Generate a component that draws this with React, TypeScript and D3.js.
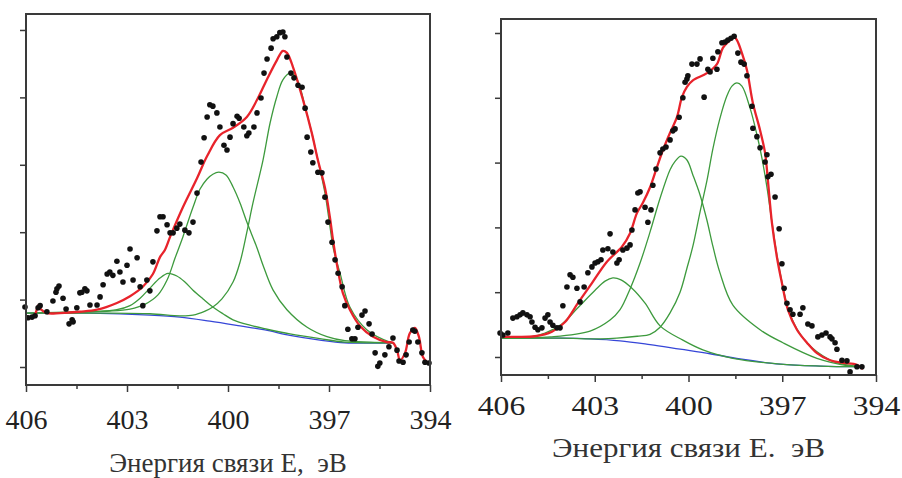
import React, { useEffect, useRef } from "react";
import * as d3 from "d3";

type Pt = [number, number];

// binding energy (eV), intensity (arb. units)

// ---- left spectrum ----
const leftDots: Pt[] = [
  [406.03, 0.89], [405.94, 0.73], [405.82, 0.74], [405.73, 0.76], [405.64, 0.88], [405.58, 0.91],
  [405.38, 0.82], [405.2, 0.98], [405.11, 1.11], [405.08, 1.16], [405.02, 1.2], [404.9, 1.02],
  [404.81, 0.86], [404.72, 0.64], [404.63, 0.7], [404.6, 0.67], [404.49, 0.88], [404.4, 1.1],
  [404.34, 1.11], [404.25, 1.16], [404.19, 1.13], [404.1, 0.92], [403.89, 0.92], [403.8, 1.04],
  [403.71, 1.22], [403.59, 1.38], [403.51, 1.41], [403.42, 1.36], [403.3, 1.57], [403.21, 1.41],
  [403.12, 1.26], [403.0, 1.51], [402.91, 1.75], [402.82, 1.29], [402.7, 1.62], [402.61, 1.19],
  [402.53, 0.91], [402.41, 1.29], [402.32, 1.13], [402.23, 1.56], [402.11, 2.02], [402.02, 2.23],
  [401.93, 2.23], [401.81, 2.11], [401.72, 1.99], [401.63, 1.99], [401.52, 2.06], [401.43, 2.12],
  [401.28, 2.03], [401.16, 1.99], [401.04, 2.15], [400.92, 2.58], [400.8, 3.04], [400.71, 3.4],
  [400.62, 3.71], [400.54, 3.89], [400.45, 3.87], [400.33, 3.77], [400.24, 3.56], [400.12, 3.29],
  [400.03, 3.22], [399.94, 3.41], [399.85, 3.61], [399.73, 3.72], [399.67, 3.69], [399.53, 3.56],
  [399.44, 3.43], [399.38, 3.47], [399.23, 3.56], [399.14, 3.77], [399.02, 3.99], [398.93, 4.36],
  [398.84, 4.57], [398.72, 4.73], [398.66, 4.87], [398.55, 4.9], [398.46, 4.96], [398.37, 4.97],
  [398.31, 4.9], [398.25, 4.6], [398.13, 4.36], [398.04, 4.29], [397.92, 4.18], [397.8, 4.15],
  [397.71, 3.84], [397.65, 3.41], [397.54, 3.19], [397.48, 3.03], [397.33, 2.89], [397.21, 2.88],
  [397.12, 2.52], [397.03, 2.15], [396.91, 1.85], [396.82, 1.59], [396.73, 1.39], [396.61, 1.19],
  [396.53, 0.91], [396.44, 0.56], [396.32, 0.42], [396.23, 0.42], [396.14, 0.59], [396.02, 0.77],
  [395.93, 0.83], [395.81, 0.64], [395.72, 0.49], [395.63, 0.21], [395.55, 0.01], [395.49, 0.06],
  [395.34, 0.18], [395.22, 0.3], [395.1, 0.43], [394.98, 0.25], [394.92, 0.09], [394.8, 0.07],
  [394.71, 0.18], [394.62, 0.37], [394.51, 0.55], [394.45, 0.53], [394.36, 0.37], [394.24, 0.21],
  [394.15, 0.07], [394.03, 0.06],
];

const leftFit: Pt[] = [
  [406.0, 0.76], [405.88, 0.73], [405.79, 0.73], [405.7, 0.82], [405.64, 0.91], [405.55, 0.85],
  [405.38, 0.8], [404.99, 0.8], [404.4, 0.82], [403.89, 0.85], [403.3, 0.95], [402.91, 1.05],
  [402.53, 1.19], [402.23, 1.38], [402.02, 1.63], [401.87, 1.74], [401.72, 1.93], [401.34, 2.37],
  [400.92, 2.8], [400.62, 3.13], [400.24, 3.44], [399.85, 3.55], [399.44, 3.71], [399.14, 3.96],
  [398.84, 4.27], [398.55, 4.55], [398.37, 4.69], [398.25, 4.66], [398.07, 4.45], [397.77, 3.96],
  [397.51, 3.47], [397.33, 3.07], [397.12, 2.66], [396.97, 2.21], [396.88, 1.88], [396.76, 1.51],
  [396.59, 1.1], [396.38, 0.85], [396.08, 0.61], [395.69, 0.45], [395.28, 0.37], [395.1, 0.36],
  [394.98, 0.25], [394.89, 0.1], [394.74, 0.21], [394.6, 0.5], [394.45, 0.58], [394.33, 0.45],
  [394.21, 0.15], [394.06, 0.06],
];

const leftBackground: Pt[] = [
  [406.0, 0.8], [404.1, 0.8], [402.32, 0.77], [401.43, 0.74], [400.54, 0.68], [399.64, 0.61],
  [398.9, 0.55], [398.16, 0.47], [397.27, 0.4], [396.53, 0.36], [395.1, 0.36],
];

const leftPeakA: Pt[] = [
  [404.99, 0.8], [404.1, 0.82], [403.3, 0.85], [402.91, 0.91], [402.61, 1.02], [402.32, 1.17],
  [402.02, 1.32], [401.78, 1.39], [401.52, 1.35], [401.28, 1.26], [401.04, 1.14], [400.74, 1.01],
  [400.45, 0.89], [400.15, 0.79], [399.85, 0.7], [399.35, 0.62], [398.84, 0.56], [398.16, 0.49],
  [397.27, 0.42], [396.53, 0.37], [395.1, 0.36],
];

const leftPeakB: Pt[] = [
  [406.0, 0.8], [404.4, 0.82], [403.51, 0.83], [402.91, 0.86], [402.47, 0.93], [402.08, 1.07],
  [401.81, 1.29], [401.57, 1.62], [401.34, 1.93], [401.04, 2.37], [400.83, 2.64], [400.62, 2.79],
  [400.45, 2.86], [400.27, 2.89], [400.06, 2.85], [399.85, 2.67], [399.64, 2.43], [399.44, 2.15],
  [399.14, 1.77], [398.96, 1.51], [398.66, 1.14], [398.25, 0.85], [397.65, 0.59], [397.06, 0.45],
  [396.53, 0.39], [395.78, 0.37], [395.1, 0.36],
];

const leftPeakC: Pt[] = [
  [406.0, 0.8], [403.8, 0.8], [402.32, 0.79], [401.43, 0.76], [401.04, 0.77], [400.68, 0.83],
  [400.45, 0.89], [400.18, 1.01], [399.85, 1.26], [399.64, 1.56], [399.44, 2.0], [399.26, 2.43],
  [398.96, 3.07], [398.75, 3.62], [398.55, 4.01], [398.37, 4.26], [398.16, 4.36], [398.01, 4.32],
  [397.86, 4.15], [397.71, 3.86], [397.51, 3.47], [397.33, 3.07], [397.12, 2.58], [396.97, 2.08],
  [396.88, 1.78], [396.67, 1.39], [396.38, 0.89], [395.87, 0.55], [395.19, 0.37], [395.1, 0.36],
];

// ---- right spectrum ----
const rightDots: Pt[] = [
  [406.03, 0.37], [405.94, 0.34], [405.78, 0.37], [405.62, 0.6], [405.49, 0.62], [405.39, 0.65],
  [405.3, 0.68], [405.17, 0.65], [405.07, 0.62], [405.01, 0.54], [404.91, 0.46], [404.82, 0.42],
  [404.69, 0.45], [404.59, 0.6], [404.5, 0.65], [404.43, 0.54], [404.34, 0.49], [404.21, 0.45],
  [404.11, 0.45], [404.02, 0.79], [403.89, 1.08], [403.79, 1.27], [403.7, 1.23], [403.57, 1.06],
  [403.47, 0.85], [403.34, 1.08], [403.22, 1.3], [403.09, 1.39], [402.99, 1.45], [402.9, 1.47],
  [402.8, 1.5], [402.74, 1.65], [402.58, 1.67], [402.51, 1.9], [402.42, 1.62], [402.29, 1.45],
  [402.22, 1.5], [402.1, 1.65], [401.97, 1.68], [401.87, 1.73], [401.81, 1.96], [401.71, 2.27],
  [401.62, 2.53], [401.55, 2.55], [401.39, 2.31], [401.3, 2.08], [401.2, 2.27], [401.14, 2.65],
  [401.04, 2.9], [400.91, 3.15], [400.82, 3.21], [400.72, 3.24], [400.59, 3.35], [400.5, 3.49],
  [400.43, 3.52], [400.3, 3.7], [400.18, 4.0], [400.11, 4.24], [400.05, 4.29], [400.02, 4.34],
  [399.89, 4.52], [399.73, 4.52], [399.63, 4.6], [399.5, 4.01], [399.38, 4.44], [399.31, 4.4],
  [399.22, 4.61], [399.09, 4.44], [399.06, 4.71], [398.93, 4.85], [398.83, 4.86], [398.74, 4.89],
  [398.64, 4.92], [398.54, 4.95], [398.42, 4.69], [398.32, 4.55], [398.22, 4.52], [398.13, 4.34],
  [397.97, 3.87], [397.94, 3.53], [397.81, 3.4], [397.71, 3.23], [397.55, 3.01], [397.49, 3.12],
  [397.46, 2.78], [397.36, 2.82], [397.23, 2.47], [397.1, 1.98], [397.01, 1.44], [396.94, 1.06],
  [396.85, 0.83], [396.75, 0.73], [396.66, 0.66], [396.43, 0.66], [396.34, 0.76], [396.18, 0.51],
  [396.05, 0.48], [395.86, 0.31], [395.73, 0.34], [395.6, 0.37], [395.47, 0.31], [395.41, 0.28],
  [395.31, 0.22], [395.25, 0.12], [395.09, -0.05], [394.93, -0.06], [394.83, -0.23], [394.61, -0.15],
  [394.45, -0.15],
];

const rightFit: Pt[] = [
  [406.03, 0.31], [405.55, 0.31], [404.91, 0.32], [404.37, 0.39], [403.95, 0.54], [403.54, 0.83],
  [403.09, 1.14], [402.61, 1.47], [402.13, 1.7], [401.87, 1.91], [401.65, 2.22], [401.46, 2.38],
  [401.23, 2.62], [401.01, 2.93], [400.82, 3.19], [400.59, 3.46], [400.37, 3.7], [400.21, 4.01],
  [400.05, 4.17], [399.86, 4.27], [399.41, 4.38], [399.09, 4.52], [398.9, 4.77], [398.67, 4.89],
  [398.54, 4.94], [398.45, 4.89], [398.29, 4.69], [398.13, 4.43], [397.94, 3.92], [397.71, 3.5],
  [397.55, 3.15], [397.46, 2.73], [397.33, 2.07], [397.17, 1.54], [397.01, 1.14], [396.82, 0.73],
  [396.53, 0.42], [396.21, 0.22], [395.89, 0.06], [395.47, -0.05], [395.06, -0.09], [394.61, -0.12],
  [394.42, -0.19],
];

const rightBackground: Pt[] = [
  [406.0, 0.29], [404.11, 0.29], [403.15, 0.28], [402.19, 0.25], [401.23, 0.19], [400.27, 0.12],
  [399.31, 0.05], [398.35, -0.03], [397.07, -0.11], [395.79, -0.14], [394.51, -0.15],
];

const rightPeakA: Pt[] = [
  [406.0, 0.29], [405.07, 0.31], [404.59, 0.37], [404.05, 0.51], [403.54, 0.76], [402.99, 1.03],
  [402.67, 1.17], [402.42, 1.22], [402.16, 1.19], [401.81, 1.06], [401.39, 0.83], [400.91, 0.48],
  [400.18, 0.26], [399.54, 0.11], [398.58, -0.02], [397.07, -0.11], [395.79, -0.14], [394.51, -0.15],
];

const rightPeakB: Pt[] = [
  [406.0, 0.29], [404.43, 0.31], [403.15, 0.4], [402.51, 0.57], [402.19, 0.73], [401.87, 1.05],
  [401.55, 1.45], [401.23, 1.93], [400.91, 2.45], [400.59, 2.89], [400.43, 3.02], [400.24, 3.1],
  [400.05, 3.04], [399.86, 2.81], [399.63, 2.5], [399.41, 2.11], [399.22, 1.71], [399.0, 1.31],
  [398.58, 0.8], [397.71, 0.42], [396.98, 0.22], [395.89, -0.02], [394.83, -0.14], [394.51, -0.15],
];

const rightPeakC: Pt[] = [
  [406.0, 0.29], [404.11, 0.29], [402.83, 0.28], [402.29, 0.29], [401.64, 0.32], [401.23, 0.35],
  [400.91, 0.46], [400.59, 0.68], [400.27, 1.0], [400.05, 1.37], [399.86, 1.71], [399.63, 2.24],
  [399.41, 2.72], [399.22, 3.21], [399.0, 3.67], [398.77, 4.03], [398.61, 4.18], [398.45, 4.23],
  [398.29, 4.18], [398.03, 3.84], [397.81, 3.43], [397.65, 3.07], [397.49, 2.62], [397.33, 2.08],
  [397.17, 1.57], [397.01, 1.16], [396.82, 0.76], [396.53, 0.43], [396.21, 0.22], [395.89, 0.08],
  [395.31, -0.08], [394.51, -0.15],
];

const xTicks = [406, 403, 400, 397, 394];
const xMinorTicks = [404.5, 401.5, 398.5, 395.5];
const yTicks = [0, 1, 2, 3, 4, 5];

const panels = [
  {
    dots: leftDots, fit: leftFit, bg: leftBackground, peaks: [leftPeakA, leftPeakB, leftPeakC],
    title: "Энергия связи Е,  эВ",
    left: 26, right: 430, top: 14, bottom: 385,
    yMin: -0.267, yMax: 5.237,
    labelDy: 44, titleDy: 87, sx: 1, titleSx: 1,
  },
  {
    dots: rightDots, fit: rightFit, bg: rightBackground, peaks: [rightPeakA, rightPeakB, rightPeakC],
    title: "Энергия связи Е.  эВ",
    left: 501, right: 876, top: 19, bottom: 375,
    yMin: -0.278, yMax: 5.216,
    labelDy: 40, titleDy: 82, sx: 1.13, titleSx: 1.15,
  },
];

const font = "'Liberation Serif', 'Times New Roman', serif";

const Panel = ({ cfg }: { cfg: (typeof panels)[number] }) => {
  const ref = useRef<SVGGElement>(null);

  useEffect(() => {
    const g = d3.select(ref.current);
    g.selectAll("*").remove();

    const x = d3.scaleLinear().domain([406, 394]).range([cfg.left, cfg.right]);
    const y = d3.scaleLinear().domain([cfg.yMin, cfg.yMax]).range([cfg.bottom, cfg.top]);

    const line = d3
      .line<Pt>()
      .x((d) => x(d[0]))
      .y((d) => y(d[1]))
      .curve(d3.curveCatmullRom.alpha(0.5));

    g.append("path")
      .datum(cfg.bg)
      .attr("d", line)
      .attr("fill", "none")
      .attr("stroke", "#3646d8")
      .attr("stroke-width", 1.3);

    cfg.peaks.forEach((p) =>
      g.append("path")
        .datum(p)
        .attr("d", line)
        .attr("fill", "none")
        .attr("stroke", "#3d9a3d")
        .attr("stroke-width", 1.3)
    );

    g.append("path")
      .datum(cfg.fit)
      .attr("d", line)
      .attr("fill", "none")
      .attr("stroke", "#e8232b")
      .attr("stroke-width", 2.3);

    g.append("g")
      .selectAll("circle")
      .data(cfg.dots)
      .join("circle")
      .attr("cx", (d) => x(d[0]))
      .attr("cy", (d) => y(d[1]))
      .attr("r", 2.8)
      .attr("fill", "#111");

    // frame
    g.append("rect")
      .attr("x", cfg.left)
      .attr("y", cfg.top)
      .attr("width", cfg.right - cfg.left)
      .attr("height", cfg.bottom - cfg.top)
      .attr("fill", "none")
      .attr("stroke", "#3a3a3a")
      .attr("stroke-width", 2);

    // y ticks, no labels
    g.append("g")
      .attr("transform", `translate(${cfg.left},0)`)
      .call(d3.axisLeft(y).tickValues(yTicks).tickSize(6).tickFormat(() => ""))
      .call((a) => a.select(".domain").remove())
      .call((a) => a.selectAll("line").attr("stroke", "#3a3a3a").attr("stroke-width", 1.5));

    // minor x ticks
    g.append("g")
      .attr("transform", `translate(0,${cfg.bottom})`)
      .call(d3.axisBottom(x).tickValues(xMinorTicks).tickSize(4).tickFormat(() => ""))
      .call((a) => a.select(".domain").remove())
      .call((a) => a.selectAll("line").attr("stroke", "#3a3a3a").attr("stroke-width", 1.5));

    // major x ticks
    g.append("g")
      .attr("transform", `translate(0,${cfg.bottom})`)
      .attr("font-family", font)
      .call(d3.axisBottom(x).tickValues(xTicks).tickSize(7).tickFormat(d3.format("d")))
      .call((a) => a.select(".domain").remove())
      .call((a) => a.selectAll("line").attr("stroke", "#3a3a3a").attr("stroke-width", 1.5))
      .call((a) =>
        a.selectAll("text")
          .attr("y", cfg.labelDy)
          .attr("dy", 0)
          .attr("transform", `scale(${cfg.sx},1)`)
          .attr("fill", "#222")
          .style("font-family", font)
          .style("font-size", "28px")
      );

    g.append("text")
      .attr("transform", `translate(${(cfg.left + cfg.right) / 2},${cfg.bottom + cfg.titleDy}) scale(${cfg.titleSx},1)`)
      .attr("text-anchor", "middle")
      .attr("fill", "#333")
      .style("font-family", font)
      .style("font-size", "27px")
      .style("white-space", "pre")
      .text(cfg.title);
  }, [cfg]);

  return <g ref={ref} />;
};

export default function App() {
  return (
    <svg
      width={902}
      height={478}
      style={{ position: "absolute", left: 0, top: 0, background: "#fff" }}
    >
      <rect width={902} height={478} fill="#fff" />
      {panels.map((p, i) => (
        <Panel key={i} cfg={p} />
      ))}
    </svg>
  );
}
